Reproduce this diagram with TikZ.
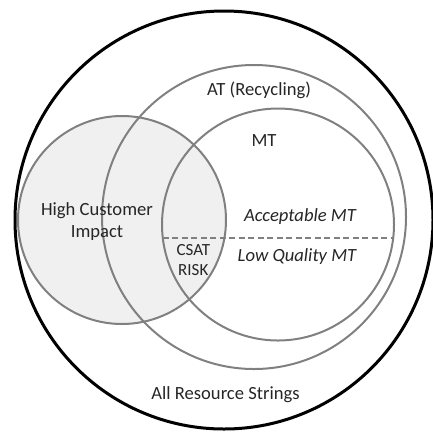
\documentclass[tikz,border=0pt]{standalone}
\usepackage{fontspec}
\setmainfont{Carlito}
\begin{document}
\begin{tikzpicture}[x=1pt,y=-1pt,
  ring/.style={circle, draw=black!50, line width=2pt, inner sep=0pt},
  label/.style={font=\fontsize{18.6}{21}\selectfont, text=black!85, inner sep=0pt, anchor=base, align=center},
  ilabel/.style={label, font=\fontsize{18.6}{21}\selectfont\itshape}
]
\useasboundingbox (0,0) rectangle (433,432);
% shaded set, drawn first so every outline stays visible on top
\fill[black!6] (122,220) circle[radius=104];
% universe
\node[circle, draw=black, line width=3pt, inner sep=0pt, minimum size=418pt] (all) at (224,220) {};
% nested sets
\node[ring, minimum size=304pt] (at) at (254,217) {};
\node[ring, minimum size=232pt] (mt) at (278,224.5) {};
\node[ring, minimum size=208pt] (hci) at (122,220) {};
% quality split across MT
\coordinate (splitL) at (162.7,237.5);
\coordinate (splitR) at (393.3,237.5);
\draw[black!50, line width=2pt, dash pattern=on 6pt off 3.5pt] (splitL) -- (splitR);
% labels
\node[label] (tat) at (259,95) {AT (Recycling)};
\node[label] (tmt) at (264,146.5) {MT};
\node[label] (thci1) at (97,215.5) {High Customer};
\node[label] (thci2) at (97,237) {Impact};
\node[ilabel] (tacc) at (300,221) {Acceptable MT};
\node[ilabel] (tlow) at (297,261.5) {Low Quality MT};
\node[label, font=\fontsize{17}{20}\selectfont] (tcsat) at (193.3,255.7) {CSAT};
\node[label, font=\fontsize{17}{20}\selectfont] (trisk) at (193.3,275.7) {RISK};
\node[label] (tall) at (225.5,399.3) {All Resource Strings};
\end{tikzpicture}
\end{document}
